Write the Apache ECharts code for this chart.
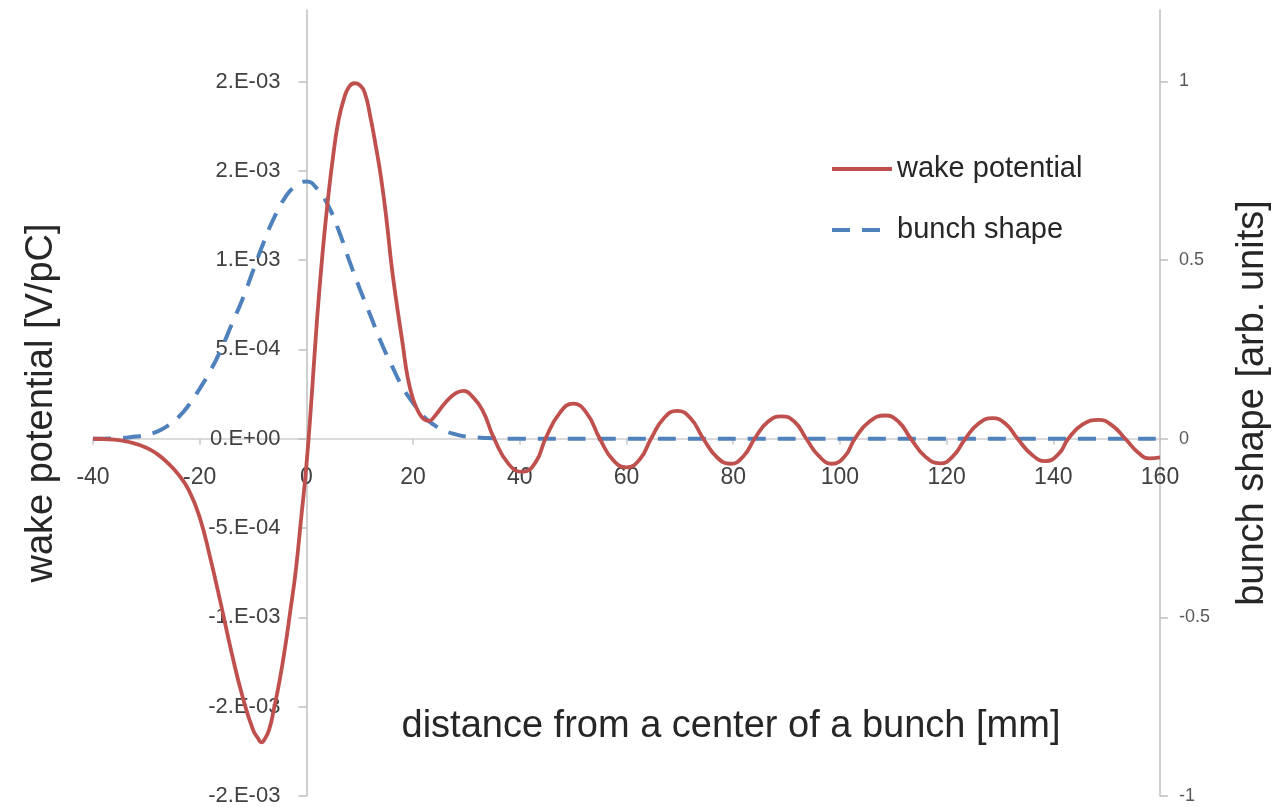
<!DOCTYPE html>
<html>
<head>
<meta charset="utf-8">
<title>Wake potential and bunch shape</title>
<script src="https://cdn.jsdelivr.net/npm/echarts@6/dist/echarts.min.js"></script>
<style>
  html, body { margin: 0; padding: 0; background: #ffffff; }
  #chart { width: 1274px; height: 807px; }
</style>
</head>
<body>
<div id="chart"></div>
<script>
// Wake potential [V/pC] versus distance from the bunch centre [mm]
const wakeDistance = [
  -40, -36, -33, -30, -28, -26, -24, -22, -20, -18, -16, -14, -12, -10, -9, -8.5, -8, -7, -6, -5,
  -4, -3, -2, -1, 0, 1, 2, 3, 4, 5, 6, 7, 8, 9, 10, 11, 12, 13, 14, 15,
  16, 17, 18, 19, 20, 21, 22, 23, 24, 26, 28, 29.5, 31, 33, 35.2, 38, 40.5, 43, 44.8, 47.5,
  50, 52.5, 55, 57.5, 60, 62.5, 64.6, 67, 69.5, 72, 74.4, 77, 79.5, 82, 84, 86.5, 89, 91.5, 93.7, 96,
  98.5, 101, 102.8, 105.5, 108.5, 111, 113.3, 116, 118.8, 121.3, 123.5, 126, 128.6, 131, 133.3, 136, 138.5, 141, 142.8, 145.5,
  148.5, 151, 153.5, 156, 158, 160
];
const wakePotential = [
  0, -0.05e-4, -0.2e-4, -0.5e-4, -0.85e-4, -1.35e-4, -2.0e-4, -2.9e-4, -4.4e-4, -6.7e-4, -9.3e-4, -12.0e-4, -14.4e-4, -16.3e-4, -16.8e-4, -17.0e-4, -16.9e-4, -16.3e-4, -15.0e-4, -13.5e-4,
  -11.7e-4, -9.6e-4, -7.4e-4, -4.5e-4, -1.5e-4, 2.4e-4, 6.7e-4, 10.3e-4, 13.3e-4, 15.8e-4, 17.8e-4, 19.0e-4, 19.7e-4, 19.9e-4, 19.8e-4, 19.3e-4, 18.0e-4, 16.4e-4, 14.6e-4, 12.3e-4,
  9.6e-4, 7.4e-4, 5.4e-4, 3.4e-4, 2.2e-4, 1.5e-4, 1.1e-4, 1.0e-4, 1.25e-4, 2.0e-4, 2.55e-4, 2.68e-4, 2.4e-4, 1.6e-4, 0, -1.45e-4, -1.85e-4, -1.3e-4, 0, 1.45e-4,
  1.96e-4, 1.45e-4, 0, -1.2e-4, -1.6e-4, -1.15e-4, 0, 1.15e-4, 1.56e-4, 1.15e-4, 0, -1.05e-4, -1.4e-4, -0.95e-4, 0, 0.95e-4, 1.25e-4, 0.95e-4, 0, -0.95e-4,
  -1.4e-4, -0.95e-4, 0, 0.95e-4, 1.3e-4, 0.95e-4, 0, -1.0e-4, -1.38e-4, -0.95e-4, 0, 0.85e-4, 1.15e-4, 0.85e-4, 0, -0.9e-4, -1.25e-4, -0.85e-4, 0, 0.8e-4,
  1.05e-4, 0.75e-4, 0, -0.8e-4, -1.1e-4, -1.05e-4
];

// Bunch shape [arb. units] versus distance [mm]
const bunchDistance = [
  -40, -36, -32, -30, -28, -26, -24, -22, -20, -18, -16, -14, -12, -10, -8, -6, -4, -2, 0, 2,
  4, 6, 8, 10, 12, 14, 16, 18, 20, 22, 24, 26, 28, 30, 34, 38, 60, 100, 160
];
const bunchShape = [
  0, 0.001, 0.006, 0.011, 0.020, 0.036, 0.060, 0.095, 0.14, 0.19, 0.25, 0.32, 0.39, 0.47, 0.55, 0.62, 0.675, 0.708, 0.72, 0.70,
  0.655, 0.585, 0.50, 0.42, 0.345, 0.27, 0.205, 0.145, 0.10, 0.062, 0.038, 0.022, 0.012, 0.006, 0.002, 0, 0, 0, 0
];

// Axis ticks
const leftTickValues = [-0.002, -0.0015, -0.001, -0.0005, 0, 0.0005, 0.001, 0.0015, 0.002];
const leftTickLabels = ['-2.E-03', '-2.E-03', '-1.E-03', '-5.E-04', '0.E+00', '5.E-04', '1.E-03', '2.E-03', '2.E-03'];
const rightTickValues = [-1, -0.5, 0, 0.5, 1];
const rightTickLabels = ['-1', '-0.5', '0', '0.5', '1'];

const FONT = '"Liberation Sans", Arial, sans-serif';
const RED = '#c0504d';
const BLUE = '#4f81bd';
const AXIS_GREY = '#bfbfbf';

// Plot frame in pixels; the axes cross where both values are zero
const GRID = { left: 93, right: 114, top: 10, bottom: 11 };
const WIDTH = 1274, HEIGHT = 807;
const X_MIN = -40, X_MAX = 160, YL_MIN = -0.002, YL_MAX = 0.0024;
const plotW = WIDTH - GRID.left - GRID.right;
const plotH = HEIGHT - GRID.top - GRID.bottom;
const zeroX = GRID.left + plotW * (0 - X_MIN) / (X_MAX - X_MIN);
const zeroY = GRID.top + plotH * (YL_MAX - 0) / (YL_MAX - YL_MIN);
const xAxisOffset = -(HEIGHT - GRID.bottom - zeroY);
const yAxisOffset = -(zeroX - GRID.left);

function pairs(xs, ys) {
  return xs.map((x, i) => [x, ys[i]]);
}
function labelFor(values, labels) {
  return function (v) {
    const i = values.findIndex(t => Math.abs(t - v) < 1e-9);
    return i < 0 ? '' : labels[i];
  };
}

const chart = echarts.init(document.getElementById('chart'), null, { renderer: 'canvas' });

chart.setOption({
  backgroundColor: '#ffffff',
  animation: false,
  textStyle: { fontFamily: FONT },
  grid: Object.assign({ containLabel: false, outerBoundsMode: 'none' }, GRID),
  legend: {
    orient: 'vertical',
    left: 830,
    top: 153,
    padding: 0,
    itemWidth: 60,
    itemHeight: 14,
    itemGap: 29,
    itemStyle: { opacity: 0 },
    lineStyle: { width: 4 },
    textStyle: { fontFamily: FONT, fontSize: 29, color: '#262626', lineHeight: 32 },
    data: ['wake potential', 'bunch shape']
  },
  xAxis: {
    type: 'value',
    min: X_MIN,
    max: X_MAX,
    interval: 20,
    offset: xAxisOffset,
    axisLine: { show: true, onZero: false, lineStyle: { color: '#d0d0d0', width: 1.5 } },
    axisTick: { show: true, inside: false, length: 6, lineStyle: { color: '#c8c8c8', width: 1.5 } },
    axisLabel: { fontFamily: FONT, fontSize: 23, color: '#404040', margin: 27 },
    splitLine: { show: false }
  },
  yAxis: [
    {
      type: 'value',
      position: 'left',
      min: YL_MIN,
      max: YL_MAX,
      interval: 0.0005,
      offset: yAxisOffset,
      name: 'wake potential [V/pC]',
      nameLocation: 'middle',
      nameRotate: 90,
      nameGap: 246,
      nameTextStyle: { fontFamily: FONT, fontSize: 38, color: '#262626' },
      axisLine: { show: true, onZero: false, lineStyle: { color: AXIS_GREY, width: 1.5 } },
      axisTick: { show: true, inside: false, length: 8, customValues: leftTickValues, lineStyle: { color: AXIS_GREY, width: 1.5 } },
      axisLabel: {
        fontFamily: FONT, fontSize: 22, color: '#404040', margin: 26,
        customValues: leftTickValues,
        formatter: labelFor(leftTickValues, leftTickLabels)
      },
      splitLine: { show: false }
    },
    {
      type: 'value',
      position: 'right',
      min: -1,
      max: 1.2,
      interval: 0.5,
      name: 'bunch shape [arb. units]',
      nameLocation: 'middle',
      nameRotate: 90,
      nameGap: 74,
      nameTextStyle: { fontFamily: FONT, fontSize: 38, color: '#262626' },
      axisLine: { show: true, onZero: false, lineStyle: { color: AXIS_GREY, width: 1.5 } },
      axisTick: { show: true, inside: false, length: 8, customValues: rightTickValues, lineStyle: { color: AXIS_GREY, width: 1.5 } },
      axisLabel: {
        fontFamily: FONT, fontSize: 18, color: '#595959', margin: 19,
        customValues: rightTickValues,
        formatter: labelFor(rightTickValues, rightTickLabels)
      },
      splitLine: { show: false }
    }
  ],
  graphic: [
    {
      type: 'text',
      x: 731,
      y: 727,
      style: {
        text: 'distance from a center of a bunch [mm]',
        fontFamily: FONT,
        fontSize: 38,
        fill: '#262626',
        align: 'center',
        verticalAlign: 'middle'
      }
    }
  ],
  series: [
    {
      name: 'wake potential',
      type: 'line',
      yAxisIndex: 0,
      data: pairs(wakeDistance, wakePotential),
      smooth: 0.5,
      symbol: 'none',
      lineStyle: { color: RED, width: 3.8 },
      itemStyle: { color: RED },
      z: 3
    },
    {
      name: 'bunch shape',
      type: 'line',
      yAxisIndex: 1,
      data: pairs(bunchDistance, bunchShape),
      smooth: 0.5,
      symbol: 'none',
      lineStyle: { color: BLUE, width: 4, type: [18, 12] },
      itemStyle: { color: BLUE },
      z: 2
    }
  ]
});
</script>
</body>
</html>
